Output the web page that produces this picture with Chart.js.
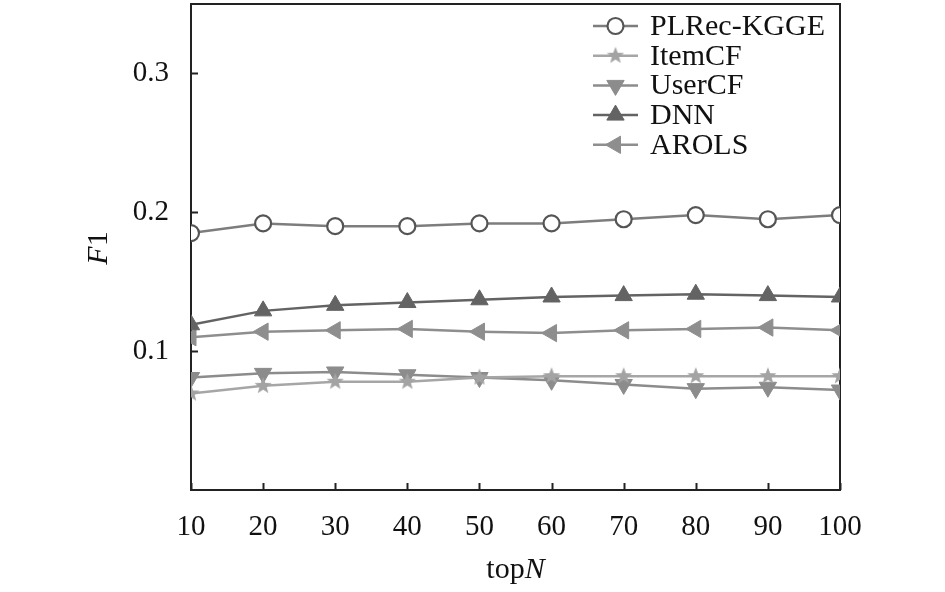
<!DOCTYPE html>
<html>
<head>
<meta charset="utf-8">
<script src="https://cdn.jsdelivr.net/npm/chart.js@4"></script>
<style>
  html, body { margin: 0; padding: 0; background: #fff; }
  #wrap { width: 945px; height: 592px; }
</style>
</head>
<body>
<div id="wrap"><canvas id="f1Chart" width="945" height="592"></canvas></div>
<script>
// Data
const topN = [10, 20, 30, 40, 50, 60, 70, 80, 90, 100];
const yTicks = [0.1, 0.2, 0.3];
const seriesNames = ['PLRec-KGGE', 'ItemCF', 'UserCF', 'DNN', 'AROLS'];
const plrecKgge = [0.185, 0.192, 0.190, 0.190, 0.192, 0.192, 0.195, 0.198, 0.195, 0.198];
const itemCF = [0.0695, 0.075, 0.078, 0.078, 0.081, 0.082, 0.082, 0.082, 0.082, 0.082];
const userCF = [0.081, 0.084, 0.085, 0.083, 0.081, 0.079, 0.076, 0.073, 0.074, 0.072];
const dnn = [0.119, 0.129, 0.133, 0.135, 0.137, 0.139, 0.140, 0.141, 0.140, 0.139];
const arols = [0.110, 0.114, 0.115, 0.116, 0.114, 0.113, 0.115, 0.116, 0.117, 0.115];

const SERIF = '"Liberation Serif", "Times New Roman", serif';
const AXIS_COLOR = '#222';

// Filled five-point star marker (Chart.js only has an outline star)
function makeStar(color, outer, inner) {
    const size = Math.ceil(outer * 2 + 2);
    const c = document.createElement('canvas');
    c.width = size;
    c.height = size;
    const g = c.getContext('2d');
    g.fillStyle = color;
    g.beginPath();
    for (let i = 0; i < 10; i++) {
        const r = i % 2 === 0 ? outer : inner;
        const a = -Math.PI / 2 + i * Math.PI / 5;
        const px = size / 2 + Math.cos(a) * r;
        const py = size / 2 + Math.sin(a) * r;
        if (i === 0) g.moveTo(px, py); else g.lineTo(px, py);
    }
    g.closePath();
    g.fill();
    return c;
}
const starMarker = makeStar('#a3a3a3', 9, 3.8);

function series(label, data, color, style, extra) {
    return Object.assign({
        label: label,
        data: data,
        borderColor: color,
        backgroundColor: color,
        borderWidth: 2.5,
        pointStyle: style,
        pointRadius: 9,
        pointBorderWidth: 1,
        pointBorderColor: color,
        pointBackgroundColor: color,
        tension: 0,
        fill: false
    }, extra || {});
}

// Inward ticks, full frame and mixed-style axis titles
const framePlugin = {
    id: 'frame',
    beforeDatasetsDraw(chart) {
        const { ctx, chartArea: a, scales } = chart;
        ctx.save();
        ctx.strokeStyle = AXIS_COLOR;
        ctx.lineWidth = 2;
        ctx.strokeRect(a.left, a.top, a.right - a.left, a.bottom - a.top);
        ctx.beginPath();
        scales.y.ticks.forEach((t, i) => {
            const py = Math.round(scales.y.getPixelForTick(i)) + 0.5;
            ctx.moveTo(a.left, py);
            ctx.lineTo(a.left + 7, py);
        });
        scales.x.ticks.forEach((t, i) => {
            const px = Math.round(scales.x.getPixelForTick(i)) + 0.5;
            ctx.moveTo(px, a.bottom);
            ctx.lineTo(px, a.bottom - 7);
        });
        ctx.stroke();
        ctx.restore();
    },
    afterDraw(chart) {
        const { ctx, chartArea: a } = chart;
        ctx.save();
        ctx.fillStyle = '#111';
        ctx.textBaseline = 'alphabetic';
        const normal = '30px ' + SERIF;
        const italic = 'italic 30px ' + SERIF;

        // x title: top + italic N
        ctx.font = normal;
        const w1 = ctx.measureText('top').width;
        ctx.font = italic;
        const w2 = ctx.measureText('N').width;
        let x0 = (a.left + a.right) / 2 - (w1 + w2) / 2;
        ctx.font = normal;
        ctx.fillText('top', x0, 578);
        ctx.font = italic;
        ctx.fillText('N', x0 + w1, 578);

        // y title: italic F + 1, rotated
        ctx.translate(107, (a.top + a.bottom) / 2 + 1);
        ctx.rotate(-Math.PI / 2);
        ctx.font = italic;
        const f = ctx.measureText('F').width;
        ctx.font = normal;
        const one = ctx.measureText('1').width;
        x0 = -(f + one) / 2;
        ctx.font = italic;
        ctx.fillText('F', x0, 0);
        ctx.font = normal;
        ctx.fillText('1', x0 + f, 0);
        ctx.restore();

        // legend: line sample with marker, then label
        ctx.save();
        chart.data.datasets.forEach((ds, i) => {
            const cy = 26 + i * 29.7;
            ctx.strokeStyle = ds.borderColor;
            ctx.lineWidth = 2.5;
            ctx.beginPath();
            ctx.moveTo(593, cy);
            ctx.lineTo(638, cy);
            ctx.stroke();
            ctx.fillStyle = ds.pointBackgroundColor;
            ctx.strokeStyle = ds.pointBorderColor;
            ctx.lineWidth = ds.pointBorderWidth;
            Chart.helpers.drawPoint(ctx, {
                pointStyle: ds.pointStyle,
                rotation: ds.pointRotation || 0,
                radius: ds.pointRadius === 9 ? 8 : ds.pointRadius,
                borderWidth: ds.pointBorderWidth
            }, 615.5, cy);
            ctx.fillStyle = '#111';
            ctx.font = '30px ' + SERIF;
            ctx.textBaseline = 'middle';
            ctx.fillText(ds.label, 650, cy + 1);
        });
        ctx.restore();
    }
};

const ctx = document.getElementById('f1Chart').getContext('2d');
new Chart(ctx, {
    type: 'line',
    data: {
        labels: topN,
        datasets: [
            series(seriesNames[0], plrecKgge, '#7d7d7d', 'circle', {
                pointRadius: 8,
                pointBackgroundColor: '#fff',
                pointBorderColor: '#555',
                pointBorderWidth: 2.2
            }),
            series(seriesNames[1], itemCF, '#a6a6a6', starMarker),
            series(seriesNames[2], userCF, '#8c8c8c', 'triangle', { pointRotation: 180, pointRadius: 10 }),
            series(seriesNames[3], dnn, '#636363', 'triangle', { pointRadius: 10 }),
            series(seriesNames[4], arols, '#8e8e8e', 'triangle', { pointRotation: 270, pointRadius: 10 })
        ]
    },
    options: {
        responsive: false,
        animation: false,
        devicePixelRatio: 1,
        layout: {
            autoPadding: false,
            padding: { top: 4, right: 105, left: 0, bottom: 0 }
        },
        plugins: {
            legend: { display: false },
            tooltip: { enabled: false }
        },
        scales: {
            x: {
                type: 'linear',
                min: 10,
                max: 100,
                afterBuildTicks: scale => {
                    scale.ticks = topN.map(v => ({ value: v }));
                },
                afterFit: scale => {
                    scale.height = 102;
                    scale.paddingLeft = 0;
                    scale.paddingRight = 0;
                },
                grid: { display: false, drawTicks: false },
                border: { display: false },
                ticks: {
                    color: '#111',
                    padding: 20,
                    maxRotation: 0,
                    autoSkip: false,
                    font: { family: SERIF, size: 29 }
                }
            },
            y: {
                min: 0,
                max: 0.35,
                afterBuildTicks: scale => {
                    scale.ticks = yTicks.map(v => ({ value: v }));
                },
                afterFit: scale => {
                    scale.width = 191;
                    scale.paddingTop = 0;
                    scale.paddingBottom = 0;
                },
                grid: { display: false, drawTicks: false },
                border: { display: false },
                ticks: {
                    color: '#111',
                    padding: 22,
                    font: { family: SERIF, size: 29 },
                    callback: v => v.toFixed(1)
                }
            }
        }
    },
    plugins: [framePlugin]
});
</script>
</body>
</html>
